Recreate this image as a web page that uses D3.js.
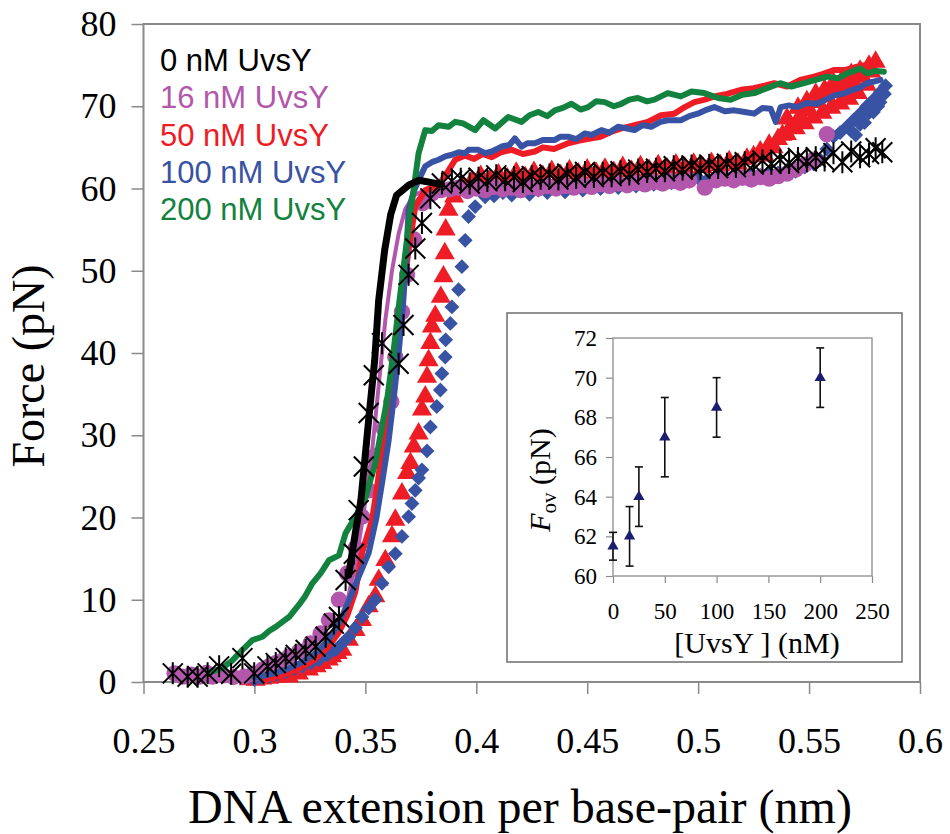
<!DOCTYPE html>
<html>
<head>
<meta charset="utf-8">
<script src="https://cdn.jsdelivr.net/npm/d3@7"></script>
<style>
  body { margin: 0; background: #fff; }
  svg { display: block; }
</style>
</head>
<body>
<script>
// axis ticks
const xTicks = [0.25, 0.3, 0.35, 0.4, 0.45, 0.5, 0.55, 0.6];
const xTickLabels = ['0.25', '0.3', '0.35', '0.4', '0.45', '0.5', '0.55', '0.6'];
const yTicks = [0, 10, 20, 30, 40, 50, 60, 70, 80];

// legend
const legendLabels = ['0 nM UvsY', '16 nM UvsY', '50 nM UvsY', '100 nM UvsY', '200 nM UvsY'];
const legendColors = ['#000000', '#b257ab', '#ee1c25', '#3953a4', '#13823f'];

// 0 nM : stretch (star markers) and return (line)
const uvs0Stars = [
  [0.2632,1.05],[0.2699,0.65],[0.2744,0.65],[0.2789,1.05],[0.2841,1.9],[0.2895,1.0],[0.2946,2.9],[0.2999,1.05],
  [0.3059,1.9],[0.3096,2.3],[0.3141,2.9],[0.3186,3.3],[0.3231,3.9],[0.3276,4.3],[0.3321,5.5],[0.3358,7.1],
  [0.3381,7.9],[0.3411,12.4],[0.3448,15.6],[0.3470,20.9],[0.3493,26.2],[0.3515,32.7],[0.3538,37.3],[0.3575,41.2],
  [0.3650,38.7],[0.3672,43.4],[0.3695,49.5],[0.3725,52.7],[0.3755,55.8],[0.3793,58.8],[0.3845,60.6],
  [0.389,60.9],[0.393,61.2],[0.397,60.6],[0.401,61.3],[0.405,60.9],[0.409,61.6],[0.413,61.0],[0.417,61.4],
  [0.421,60.8],[0.425,61.5],[0.429,61.2],[0.433,61.7],[0.437,61.1],[0.441,61.8],[0.445,61.3],[0.449,62.0],
  [0.453,61.4],[0.457,61.9],[0.461,61.5],[0.465,62.1],[0.469,61.7],[0.473,62.3],[0.477,62.0],[0.481,62.4],
  [0.485,62.1],[0.489,62.7],[0.493,62.3],[0.497,62.8],[0.501,62.4],[0.505,62.9],[0.509,62.5],[0.513,63.0],
  [0.517,62.6],[0.521,63.2],[0.525,62.9],[0.529,63.4],[0.533,63.0],[0.537,63.5],[0.541,63.1],[0.545,63.7],
  [0.549,63.3],[0.553,63.8],[0.557,63.4],[0.561,64.3],[0.565,63.2],[0.569,64.5],[0.573,63.8],[0.577,64.2],
  [0.580,64.9],[0.583,64.4]
];
const uvs0Line = [
  [0.3425,13.0],[0.3457,18.5],[0.3480,22.1],[0.3515,31.9],[0.3542,39.1],[0.3560,46.4],[0.3587,52.5],
  [0.3614,56.8],[0.3641,59.2],[0.3695,60.4],[0.3740,61.0],[0.3843,60.5]
];

// 16 nM : stretch (circles) and return (line)
const uvs16Circles = [
  [0.2640,1.05],[0.2677,0.65],[0.2715,0.9],[0.2752,0.65],[0.2785,1.1],[0.2811,0.65],[0.2860,0.8],[0.2905,0.6],
  [0.2954,0.65],[0.2995,1.0],[0.3036,1.5],[0.3066,1.9],[0.3096,2.3],[0.3126,2.6],[0.3156,3.1],[0.3201,3.7],
  [0.3253,4.7],[0.3298,5.9],[0.3336,7.5],[0.3381,10.0],[0.3418,13.2],[0.3456,16.3],[0.3485,20.1],[0.3515,23.3],
  [0.3545,27.5],[0.3583,30.8],[0.3617,34.1],[0.3635,39.5],[0.3665,45.0],[0.3688,49.5],[0.3720,53.8],[0.3758,58.2],
  [0.3800,59.4],[0.3840,59.8],
  [0.388,59.9],[0.392,60.1],[0.396,59.7],[0.400,60.0],[0.404,59.8],[0.408,60.2],[0.412,59.9],[0.416,60.1],
  [0.420,59.8],[0.424,60.2],[0.428,60.0],[0.432,60.3],[0.436,60.0],[0.440,60.3],[0.444,60.1],[0.448,60.4],
  [0.452,60.2],[0.456,60.5],[0.460,60.3],[0.464,60.6],[0.468,60.4],[0.472,60.7],[0.476,60.5],[0.480,60.8],
  [0.484,60.6],[0.488,60.9],[0.492,60.7],[0.496,61.0],[0.503,60.1],[0.508,61.0],[0.512,61.2],[0.516,61.0],
  [0.520,61.3],[0.524,61.1],[0.528,61.4],[0.532,61.2],[0.536,61.5],[0.540,61.8],[0.544,62.3],[0.548,62.9],
  [0.552,63.5],[0.558,66.6]
];
const uvs16Line = [
  [0.3420,10.0],[0.3460,15.0],[0.3500,22.0],[0.3530,28.0],[0.3560,36.0],[0.3590,44.0],[0.3620,50.0],
  [0.3650,54.5],[0.3680,57.5],[0.3720,59.2],[0.3770,59.8]
];

// 50 nM : stretch (triangles) and return (line)
const uvs50Triangles = [
  [0.2975,0.3],[0.3006,0.25],[0.3036,0.4],[0.3066,0.5],[0.3111,0.6],[0.3156,0.65],[0.3200,1.0],[0.3246,1.5],
  [0.3280,1.9],[0.3306,2.3],[0.3335,2.7],[0.3350,3.1],[0.3375,3.5],[0.3396,3.9],[0.3426,5.1],[0.3456,6.3],
  [0.3485,7.5],[0.3515,9.2],[0.3545,10.4],[0.3560,12.4],[0.3590,14.8],[0.3620,17.7],[0.3635,19.7],[0.3665,22.9],
  [0.3688,25.4],[0.3703,26.6],[0.3718,28.6],[0.3740,30.2],[0.3755,33.1],[0.3770,34.7],[0.3778,37.1],[0.3785,39.1],
  [0.3793,41.2],[0.3800,43.2],[0.3815,44.5],[0.3840,46.8],[0.3852,49.3],[0.3858,52.1],[0.3862,55.0],[0.3875,57.4],
  [0.3900,59.0],[0.3930,59.8],
  [0.394,60.3],[0.398,60.9],[0.402,61.5],[0.406,61.0],[0.410,61.7],[0.414,61.2],[0.418,61.9],[0.422,61.4],
  [0.426,62.0],[0.430,61.5],[0.434,62.1],[0.438,61.6],[0.442,62.2],[0.446,61.8],[0.450,62.3],[0.454,61.9],
  [0.458,62.4],[0.462,62.0],[0.466,62.6],[0.470,62.1],[0.474,62.7],[0.478,62.2],[0.482,62.8],[0.486,62.4],
  [0.490,62.9],[0.494,62.5],[0.498,63.0],[0.502,62.6],[0.506,63.1],[0.510,62.8],[0.514,63.3],[0.518,63.0],
  [0.522,63.6],[0.525,63.9],
  [0.528,64.5],[0.532,65.3],[0.536,66.0],[0.540,66.6],[0.544,67.3],[0.548,67.9],[0.552,68.6],[0.556,69.2],
  [0.560,69.8],[0.564,70.3],[0.568,70.9],[0.572,71.6],[0.576,72.6],
  [0.530,64.0],[0.534,65.0],[0.538,66.5],[0.542,67.5],[0.546,68.8],[0.550,69.5],[0.554,70.5],[0.558,71.2],
  [0.562,71.8],[0.566,72.4],[0.570,73.0],[0.574,73.6],[0.578,74.2],
  [0.540,68.5],[0.545,69.8],[0.549,70.6],[0.553,71.5],[0.557,72.0],[0.561,72.8],[0.565,73.2],[0.569,73.9],
  [0.573,74.3],[0.577,74.9],[0.580,75.4]
];
const uvs50Line = [
  [0.3050,0.3],[0.3120,0.8],[0.3200,1.6],[0.3270,2.7],[0.3330,4.2],[0.3380,6.0],[0.3420,8.2],[0.3455,11.0],
  [0.3485,15.7],[0.3530,19.7],[0.3553,23.7],[0.3575,28.2],[0.3605,34.3],[0.3630,38.5],[0.3650,42.4],[0.3665,46.4],
  [0.3695,52.5],[0.3725,57.8],[0.3770,59.8],[0.3830,60.4],[0.3875,62.2],[0.3905,63.5],[0.3950,64.0],[0.3990,63.6],
  [0.4030,64.2],[0.4070,63.8],[0.4110,64.4],[0.4160,64.7],[0.4210,64.2],[0.4264,64.5],[0.4300,65.0],[0.4350,64.8],
  [0.4414,65.5],[0.4460,65.8],[0.4500,66.0],[0.4560,66.3],[0.4610,66.9],[0.4654,67.3],[0.4700,67.6],[0.4773,68.1],
  [0.4833,68.9],[0.4893,69.1],[0.4940,69.9],[0.4983,70.5],[0.5030,70.8],[0.5073,71.2],[0.5130,71.5],[0.5193,72.0],
  [0.5250,72.2],[0.5300,72.5],[0.5343,72.8],[0.5402,72.4],[0.5460,73.2],[0.5522,73.6],[0.5560,73.9],[0.5612,74.4],
  [0.5660,74.4],[0.5717,74.8],[0.5792,75.2]
];

// 100 nM : stretch (diamonds) and return (line)
const uvs100Diamonds = [
  [0.3000,0.3],[0.3030,0.5],[0.3066,0.65],[0.3100,0.9],[0.3141,1.25],[0.3180,1.6],[0.3216,1.9],[0.3255,2.3],
  [0.3291,2.7],[0.3330,3.3],[0.3366,3.9],[0.3396,4.7],[0.3426,5.5],[0.3455,6.6],[0.3485,7.9],[0.3515,9.0],
  [0.3545,10.0],[0.3575,12.0],[0.3605,14.0],[0.3635,15.6],[0.3665,17.7],[0.3695,20.1],[0.3710,21.7],[0.3725,23.3],
  [0.3740,24.8],[0.3755,25.8],[0.3778,28.1],[0.3793,31.0],[0.3822,33.5],[0.3838,35.5],[0.3845,37.5],[0.3860,39.5],
  [0.3862,41.6],[0.3883,43.6],[0.3890,45.6],[0.3920,47.7],[0.3935,50.5],[0.3950,53.7],[0.3965,56.6],[0.3995,57.8],
  [0.4040,59.0],
  [0.408,59.1],[0.412,59.5],[0.416,59.2],[0.420,59.7],[0.424,59.3],[0.428,59.8],[0.432,59.5],[0.436,60.0],
  [0.440,59.6],[0.444,60.2],[0.448,59.8],[0.452,60.3],[0.456,60.0],[0.460,60.5],[0.464,60.1],[0.468,60.6],
  [0.472,60.3],[0.476,60.8],[0.480,60.5],[0.484,61.0],[0.488,60.7],[0.492,61.1],[0.496,60.9],[0.500,61.3],
  [0.504,61.0],[0.508,61.5],[0.512,61.2],[0.516,61.6],[0.520,61.4],[0.524,61.8],[0.528,61.6],[0.532,62.0],
  [0.536,61.9],[0.540,62.2],[0.544,62.1],[0.548,62.6],[0.552,63.0],
  [0.555,63.5],[0.558,64.8],[0.561,66.3],[0.564,66.8],[0.567,67.5],[0.570,68.3],[0.573,69.1],[0.576,70.0],
  [0.579,70.8],[0.582,71.7],[0.5845,72.5],[0.571,66.5],[0.575,68.0],[0.579,69.3],[0.582,70.5],
  [0.569,67.0],[0.573,67.8],[0.577,69.2],[0.581,70.0],[0.584,71.5]
];
const uvs100Line = [
  [0.3000,0.5],[0.3080,1.0],[0.3150,1.6],[0.3220,2.5],[0.3280,3.6],[0.3330,5.0],[0.3370,6.6],[0.3400,8.3],
  [0.3440,10.8],[0.3470,12.8],[0.3515,15.7],[0.3550,20.0],[0.3580,25.0],[0.3605,29.4],[0.3630,35.0],[0.3650,40.0],
  [0.3670,46.0],[0.3685,52.0],[0.3695,57.4],[0.3720,59.8],[0.3740,61.0],[0.3770,62.7],[0.3800,63.2],[0.3830,63.5],
  [0.3860,63.9],[0.3890,64.1],[0.3920,64.4],[0.3950,64.3],[0.3965,64.7],[0.4010,64.7],[0.4040,64.3],[0.4070,64.5],
  [0.4114,65.1],[0.4150,65.3],[0.4174,66.1],[0.4204,65.1],[0.4230,65.5],[0.4264,65.5],[0.4300,65.9],[0.4354,65.9],
  [0.4380,66.3],[0.4414,66.3],[0.4450,66.0],[0.4489,66.7],[0.4520,66.5],[0.4564,67.1],[0.4600,66.8],[0.4639,67.5],
  [0.4680,67.3],[0.4713,67.1],[0.4750,67.7],[0.4788,67.5],[0.4830,68.1],[0.4863,68.3],[0.4922,68.3],[0.4960,68.8],
  [0.4998,69.1],[0.5040,69.6],[0.5073,69.9],[0.5120,69.4],[0.5163,69.5],[0.5210,69.3],[0.5253,69.1],[0.5290,69.8],
  [0.5327,69.7],[0.5350,68.1],[0.5372,69.9],[0.5410,70.1],[0.5447,69.9],[0.5490,70.4],[0.5537,70.3],[0.5575,70.8],
  [0.5612,71.3],[0.5650,71.5],[0.5687,71.9],[0.5730,72.3],[0.5762,72.8],[0.5822,73.2]
];

// 200 nM : line only
const uvs200Line = [
  [0.2800,1.2],[0.2855,1.7],[0.2900,2.6],[0.2946,3.9],[0.2991,5.1],[0.3036,5.5],[0.3066,6.2],[0.3096,6.7],
  [0.3126,7.3],[0.3156,7.9],[0.3201,9.4],[0.3230,10.5],[0.3261,12.0],[0.3298,13.2],[0.3336,14.8],[0.3381,15.4],
  [0.3411,18.1],[0.3456,20.1],[0.3501,22.5],[0.3545,26.6],[0.3568,30.0],[0.3598,34.3],[0.3628,40.4],[0.3650,45.5],
  [0.3695,55.4],[0.3740,64.3],[0.3770,67.1],[0.3800,67.0],[0.3830,67.7],[0.3875,67.5],[0.3905,68.1],[0.3942,67.9],
  [0.3995,67.1],[0.4032,68.3],[0.4085,67.3],[0.4144,68.7],[0.4204,68.1],[0.4240,68.9],[0.4279,69.3],[0.4320,68.8],
  [0.4354,69.5],[0.4390,69.8],[0.4429,70.3],[0.4470,69.6],[0.4504,69.9],[0.4540,70.6],[0.4579,70.5],[0.4620,70.0],
  [0.4654,70.3],[0.4690,70.8],[0.4728,71.0],[0.4770,70.6],[0.4803,70.8],[0.4863,71.6],[0.4922,71.2],[0.4970,71.8],
  [0.5028,71.6],[0.5090,71.0],[0.5146,70.8],[0.5200,71.4],[0.5253,71.6],[0.5310,72.2],[0.5370,72.8],[0.5420,72.4],
  [0.5477,72.8],[0.5530,73.2],[0.5582,73.6],[0.5630,73.4],[0.5672,74.0],[0.5730,74.6],[0.5762,74.0],[0.5800,74.3],
  [0.5837,74.2]
];

// inset: overstretching force vs UvsY concentration
const insetConc = [0, 16, 25, 50, 100, 200];
const insetForce = [61.5, 62, 64, 67, 68.5, 70];
const insetErrLow = [60.8, 60.5, 62.5, 65, 67, 68.5];
const insetErrHigh = [62.2, 63.5, 65.5, 69, 70, 71.5];
const insetXTicks = [0, 50, 100, 150, 200, 250];
const insetYTicks = [60, 62, 64, 66, 68, 70, 72];

const W = 950, H = 834;
const serif = '"Liberation Serif", "Times New Roman", serif';
const sans = '"Liberation Sans", Arial, sans-serif';

const svg = d3.select('body').append('svg')
    .attr('width', W)
    .attr('height', H);

svg.append('rect').attr('width', W).attr('height', H).attr('fill', '#fff');

const x = d3.scaleLinear().domain([0.25, 0.6]).range([143.5, 920]);
const y = d3.scaleLinear().domain([0, 80]).range([682, 24]);

// axes
const xAxis = svg.append('g')
    .attr('transform', `translate(0,${y(0)})`)
    .call(d3.axisBottom(x).tickValues(xTicks).tickFormat((d, i) => xTickLabels[i]).tickSize(12).tickPadding(33));
const yAxis = svg.append('g')
    .attr('transform', `translate(${x(0.25)},0)`)
    .call(d3.axisLeft(y).tickValues(yTicks).tickSize(12).tickPadding(15));

[xAxis, yAxis].forEach(g => {
    g.select('.domain').remove();
    g.selectAll('line').attr('stroke', '#8a8a8a').attr('stroke-width', 1.5);
    g.selectAll('text').attr('fill', '#000').style('font-family', serif).style('font-size', '36px');
});

// plot frame
svg.append('rect')
    .attr('x', x(0.25)).attr('y', y(80))
    .attr('width', x(0.6) - x(0.25)).attr('height', y(0) - y(80))
    .attr('fill', 'none').attr('stroke', '#8a8a8a').attr('stroke-width', 2);

// axis titles
svg.append('text')
    .attr('x', 520).attr('y', 823)
    .attr('text-anchor', 'middle')
    .style('font-family', serif).style('font-size', '48px')
    .text('DNA extension per base-pair (nm)');

svg.append('text')
    .attr('transform', 'translate(44,366) rotate(-90)')
    .attr('text-anchor', 'middle')
    .style('font-family', serif).style('font-size', '46px')
    .text('Force (pN)');

const plot = svg.append('g');
const line = d3.line().x(d => x(d[0])).y(d => y(d[1]));

function drawLine(data, color, width) {
    plot.append('path')
        .datum(data)
        .attr('d', line)
        .attr('fill', 'none')
        .attr('stroke', color)
        .attr('stroke-width', width)
        .attr('stroke-linejoin', 'round')
        .attr('stroke-linecap', 'round');
}

function drawSymbols(data, symbolType, size, color, rotate) {
    plot.append('g').selectAll('path')
        .data(data)
        .enter()
        .append('path')
        .attr('transform', d => `translate(${x(d[0])},${y(d[1])})` + (rotate ? ` rotate(${rotate})` : ''))
        .attr('d', d3.symbol().type(symbolType).size(size))
        .attr('fill', color);
}

// markers and lines, back to front
drawSymbols(uvs50Triangles, d3.symbolTriangle, 175, legendColors[2]);
drawSymbols(uvs100Diamonds, d3.symbolSquare, 110, legendColors[3], 45);
drawLine(uvs16Line, legendColors[1], 4);
drawSymbols(uvs16Circles, d3.symbolCircle, 210, legendColors[1]);
drawLine(uvs50Line, legendColors[2], 6);
drawLine(uvs100Line, legendColors[3], 6);
drawLine(uvs200Line, legendColors[4], 6);

// star markers: x with a vertical bar
plot.append('g').selectAll('path')
    .data(uvs0Stars)
    .enter()
    .append('path')
    .attr('transform', d => `translate(${x(d[0])},${y(d[1])})`)
    .attr('d', 'M-10,-10L10,10M-10,10L10,-10M0,-11L0,11')
    .attr('fill', 'none')
    .attr('stroke', '#000')
    .attr('stroke-width', 2);

drawLine(uvs0Line, '#000', 7);

// legend
svg.append('g').selectAll('text')
    .data(legendLabels)
    .enter()
    .append('text')
    .attr('x', 160)
    .attr('y', (d, i) => 71 + i * 37.3)
    .attr('fill', (d, i) => legendColors[i])
    .style('font-family', sans).style('font-size', '31px')
    .text(d => d);

// inset
const inset = svg.append('g');
inset.append('rect')
    .attr('x', 507).attr('y', 313).attr('width', 395).attr('height', 349)
    .attr('fill', '#fff').attr('stroke', '#6e6e6e').attr('stroke-width', 1.5);

const ix = d3.scaleLinear().domain([0, 250]).range([613, 872]);
const iy = d3.scaleLinear().domain([60, 72]).range([576, 338]);

const ixAxis = inset.append('g')
    .attr('transform', `translate(0,${iy(60)})`)
    .call(d3.axisBottom(ix).tickValues(insetXTicks).tickSize(7).tickPadding(20));
const iyAxis = inset.append('g')
    .attr('transform', `translate(${ix(0)},0)`)
    .call(d3.axisLeft(iy).tickValues(insetYTicks).tickSize(7).tickPadding(9));

[ixAxis, iyAxis].forEach(g => {
    g.select('.domain').remove();
    g.selectAll('line').attr('stroke', '#8a8a8a').attr('stroke-width', 1.2);
    g.selectAll('text').attr('fill', '#000').style('font-family', serif).style('font-size', '23px');
});

inset.append('rect')
    .attr('x', ix(0)).attr('y', iy(72))
    .attr('width', ix(250) - ix(0)).attr('height', iy(60) - iy(72))
    .attr('fill', 'none').attr('stroke', '#9a9a9a').attr('stroke-width', 1.5);

// error bars
const err = inset.append('g').attr('stroke', '#111').attr('stroke-width', 1.6);
insetConc.forEach((c, i) => {
    err.append('line').attr('x1', ix(c)).attr('x2', ix(c)).attr('y1', iy(insetErrLow[i])).attr('y2', iy(insetErrHigh[i]));
    err.append('line').attr('x1', ix(c) - 4).attr('x2', ix(c) + 4).attr('y1', iy(insetErrLow[i])).attr('y2', iy(insetErrLow[i]));
    err.append('line').attr('x1', ix(c) - 4).attr('x2', ix(c) + 4).attr('y1', iy(insetErrHigh[i])).attr('y2', iy(insetErrHigh[i]));
});

inset.append('g').selectAll('path')
    .data(insetConc)
    .enter()
    .append('path')
    .attr('transform', (c, i) => `translate(${ix(c)},${iy(insetForce[i])})`)
    .attr('d', d3.symbol().type(d3.symbolTriangle).size(55))
    .attr('fill', '#1d1d70');

inset.append('text')
    .attr('x', 757).attr('y', 653)
    .attr('text-anchor', 'middle')
    .style('font-family', serif).style('font-size', '30px')
    .text('[UvsY ] (nM)');

const iTitle = inset.append('text')
    .attr('transform', 'translate(550,480) rotate(-90)')
    .attr('text-anchor', 'middle')
    .style('font-family', serif).style('font-size', '30px');
iTitle.append('tspan').style('font-style', 'italic').text('F');
iTitle.append('tspan').attr('dy', 6).style('font-size', '21px').text('ov');
iTitle.append('tspan').attr('dy', -6).text(' (pN)');
</script>
</body>
</html>
